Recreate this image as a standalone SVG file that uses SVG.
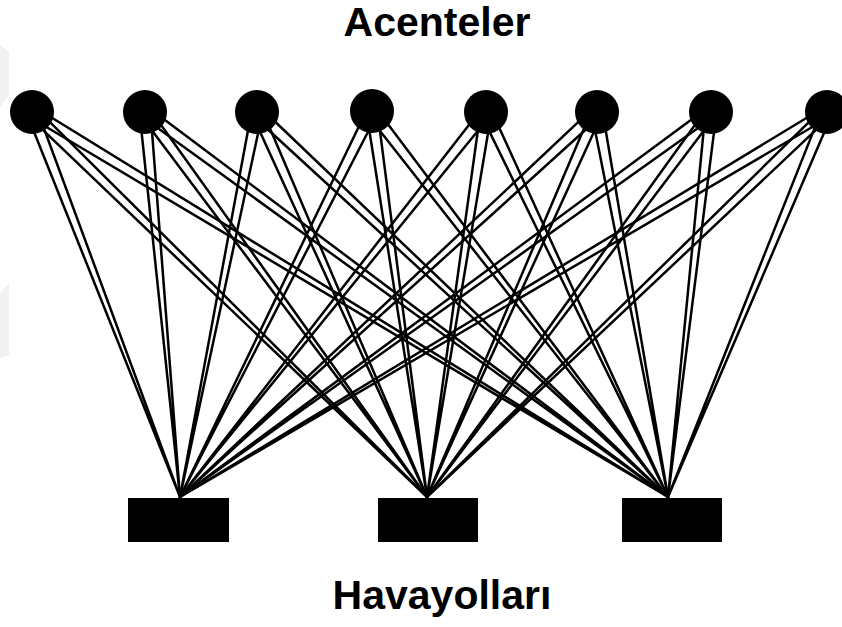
<svg xmlns="http://www.w3.org/2000/svg" width="842" height="627" viewBox="0 0 842 627">
<style>
.lbl{font-family:"Liberation Sans",Arial,sans-serif;font-weight:bold;font-size:41px;fill:#000;text-anchor:middle}
.e{fill:none;stroke:#000;stroke-width:2.5;stroke-linejoin:round}
.agent{fill:#000}
.airline{fill:#000}
.wm{fill:#f1f1f1}
</style>
<rect width="842" height="627" fill="#fff"/>
<polygon class="wm" points="0,45 9,52 9,95 0,108"/>
<polygon class="wm" points="0,293 9,283 9,355 0,358"/>
<text class="lbl" x="437" y="36">Acenteler</text>
<text class="lbl" x="442" y="609">Havayolları</text>
<g id="connectors">
<path class="e" d="M37.13,110.03 L180,497 L26.87,113.97"/>
<path class="e" d="M35.84,108.06 L427,497 L28.16,115.94"/>
<path class="e" d="M34.85,107.30 L668,497 L29.15,116.70"/>
<path class="e" d="M150.48,111.50 L180,497 L139.52,112.50"/>
<path class="e" d="M149.44,108.75 L427,497 L140.56,115.25"/>
<path class="e" d="M148.26,107.57 L668,497 L141.74,116.43"/>
<path class="e" d="M262.39,113.08 L180,497 L251.61,110.92"/>
<path class="e" d="M262.03,109.78 L427,497 L251.97,114.22"/>
<path class="e" d="M260.76,107.99 L668,497 L253.24,116.01"/>
<path class="e" d="M376.92,114.45 L180,497 L367.08,109.55"/>
<path class="e" d="M377.44,111.22 L427,497 L366.56,112.78"/>
<path class="e" d="M376.36,108.65 L668,497 L367.64,115.35"/>
<path class="e" d="M490.31,115.42 L180,497 L481.69,108.58"/>
<path class="e" d="M491.44,112.83 L427,497 L480.56,111.17"/>
<path class="e" d="M490.97,109.65 L668,497 L481.03,114.35"/>
<path class="e" d="M600.73,116.04 L180,497 L593.27,107.96"/>
<path class="e" d="M602.03,114.22 L427,497 L591.97,109.78"/>
<path class="e" d="M602.41,111.00 L668,497 L591.59,113.00"/>
<path class="e" d="M714.23,116.45 L180,497 L707.77,107.55"/>
<path class="e" d="M715.43,115.27 L427,497 L706.57,108.73"/>
<path class="e" d="M716.47,112.61 L668,497 L705.53,111.39"/>
<path class="e" d="M829.81,116.73 L180,497 L824.19,107.27"/>
<path class="e" d="M830.81,115.96 L427,497 L823.19,108.04"/>
<path class="e" d="M832.08,114.10 L668,497 L821.92,109.90"/>
</g>
<g id="agent1"><circle class="agent" cx="32" cy="112" r="22"/></g>
<g id="agent2"><circle class="agent" cx="145" cy="112" r="22"/></g>
<g id="agent3"><circle class="agent" cx="257" cy="112" r="22"/></g>
<g id="agent4"><circle class="agent" cx="372" cy="111" r="22"/></g>
<g id="agent5"><circle class="agent" cx="486" cy="112" r="22"/></g>
<g id="agent6"><circle class="agent" cx="597" cy="112" r="22"/></g>
<g id="agent7"><circle class="agent" cx="711" cy="112" r="22"/></g>
<g id="agent8"><circle class="agent" cx="827" cy="112" r="22"/></g>
<g id="airline1"><rect class="airline" x="128" y="498" width="101" height="44"/></g>
<g id="airline2"><rect class="airline" x="378" y="498" width="100" height="44"/></g>
<g id="airline3"><rect class="airline" x="622" y="498" width="100" height="44"/></g>
</svg>
